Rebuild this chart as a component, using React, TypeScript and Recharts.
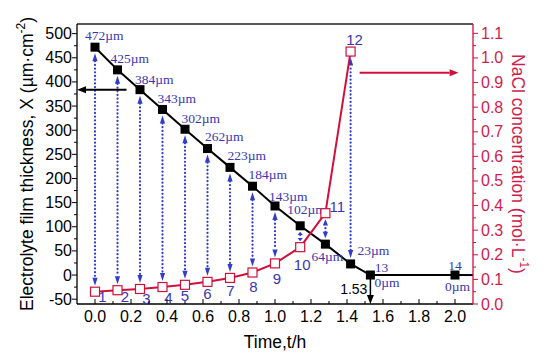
import React from 'react';
import { ComposedChart, Line, XAxis, YAxis, ReferenceLine, Label } from 'recharts';

// time in hours, thickness in µm, NaCl in mol/L
const times = [0, 0.125, 0.25, 0.375, 0.5, 0.625, 0.75, 0.875, 1.0, 1.14, 1.28, 1.42, 1.53, 2.0];
const thickness = [472, 425, 384, 343, 302, 262, 223, 184, 143, 102, 64, 23, 0, 0];
const nacl: (number | null)[] = [0.05, 0.056, 0.061, 0.069, 0.078, 0.09, 0.106, 0.128, 0.165, 0.231, 0.369, 1.026, null, null];
const thicknessLabels = ['472µm', '425µm', '384µm', '343µm', '302µm', '262µm', '223µm', '184µm', '143µm', '102µm', '64µm', '23µm', '0µm', '0µm'];
const pointNames = ['1', '2', '3', '4', '5', '6', '7', '8', '9', '10', '11', '12', '13', '14'];

const xTicks = [0, 0.1, 0.2, 0.3, 0.4, 0.5, 0.6, 0.7, 0.8, 0.9, 1.0, 1.1, 1.2, 1.3, 1.4, 1.5, 1.6, 1.7, 1.8, 1.9, 2.0];
const leftTicks = [-50, -25, 0, 25, 50, 75, 100, 125, 150, 175, 200, 225, 250, 275, 300, 325, 350, 375, 400, 425, 450, 475, 500];
const rightTicks = [0, 0.05, 0.1, 0.15, 0.2, 0.25, 0.3, 0.35, 0.4, 0.45, 0.5, 0.55, 0.6, 0.65, 0.7, 0.75, 0.8, 0.85, 0.9, 0.95, 1.0, 1.05, 1.1];

const X_DOMAIN = [-0.1, 2.1];
const LEFT_DOMAIN = [-60, 520];
const RIGHT_DOMAIN = [0, 1.138];

const data = times.map((t, i) => ({ t, x: thickness[i], c: nacl[i] }));

// express a NaCl value in left-axis units so a segment can join both series
const toLeft = (c: number) =>
  LEFT_DOMAIN[0] + ((c - RIGHT_DOMAIN[0]) / (RIGHT_DOMAIN[1] - RIGHT_DOMAIN[0])) * (LEFT_DOMAIN[1] - LEFT_DOMAIN[0]);

const SANS = '"Liberation Sans", Arial, sans-serif';
const SERIF = '"Liberation Serif", "Times New Roman", serif';
const BLUE = '#3a36b0';
const ARROW_BLUE = '#2f3ccc';
const RED = '#d0103a';
const RED_TEXT = '#cf1d4e';

// label placement, pixels from the point: [dx of text start, dy of text centre]
const umLabelPos = [
  [-10, -12], [-7, -11.5], [-5, -10.5], [-5, -11], [-3.5, -11], [-2.5, -12], [-2.5, -12],
  [-4, -12], [-6, -10], [-13, -16], [-14, 12], [7, -13], [4, 7], [-10, 11],
];
// number labels, [dx, dy] of text centre
const numLabelPos = [
  [7.5, 5], [7.5, 6.5], [6.5, 9.5], [6, 10], [0, 11], [0, 12], [0.5, 13],
  [1, 14], [2, 15], [2, 17], [12, -7], [4, -12], [11, -8], [0, -10],
];

const BlackDot = (props: any) => {
  const { cx, cy, index } = props;
  if (cx == null || cy == null) return <g key={`b-${index}`} />;
  const [dx, dy] = umLabelPos[index];
  const isTail = index >= 12;
  return (
    <g key={`b-${index}`}>
      <rect x={cx - 4.5} y={cy - 4.5} width={9} height={9} fill="#000" />
      <text x={cx + dx} y={cy + dy} dominantBaseline="central" fontFamily={SERIF} fontSize={13.5} fill={BLUE}>
        {thicknessLabels[index]}
      </text>
      {isTail && (
        <text
          x={cx + numLabelPos[index][0]}
          y={cy + numLabelPos[index][1]}
          textAnchor="middle"
          dominantBaseline="central"
          fontFamily={SERIF}
          fontSize={13.5}
          fill={BLUE}
        >
          {pointNames[index]}
        </text>
      )}
    </g>
  );
};

const RedDot = (props: any) => {
  const { cx, cy, index } = props;
  if (cx == null || cy == null || nacl[index] == null) return <g key={`r-${index}`} />;
  const [dx, dy] = numLabelPos[index];
  return (
    <g key={`r-${index}`}>
      <rect x={cx - 4.5} y={cy - 4.5} width={9} height={9} fill="#fff" stroke={RED} strokeWidth={1.2} />
      <text x={cx + dx} y={cy + dy} textAnchor="middle" dominantBaseline="central" fontFamily={SANS} fontSize={15} fill={BLUE}>
        {pointNames[index]}
      </text>
    </g>
  );
};

// dotted blue double arrow between the two points of one sample
const BlueArrow = (props: any) => {
  const { x1, y1, y2 } = props;
  const dir = y2 > y1 ? 1 : -1;
  const span = Math.abs(y2 - y1);
  const inset = 6;
  const head = Math.min(8, (span - 2 * inset) / 3);
  const a = y1 + dir * inset;
  const b = y2 - dir * inset;
  return (
    <g>
      <line
        x1={x1}
        y1={a + dir * head}
        x2={x1}
        y2={b - dir * head}
        stroke={ARROW_BLUE}
        strokeWidth={2.2}
        strokeDasharray="0.1 3.6"
        strokeLinecap="round"
      />
      <polygon points={`${x1},${a} ${x1 - 2.6},${a + dir * head} ${x1 + 2.6},${a + dir * head}`} fill={ARROW_BLUE} />
      <polygon points={`${x1},${b} ${x1 - 2.6},${b - dir * head} ${x1 + 2.6},${b - dir * head}`} fill={ARROW_BLUE} />
    </g>
  );
};

const makeArrow = (color: string, width: number, text?: string) => (props: any) => {
  const { x1, y1, x2, y2 } = props;
  const len = Math.hypot(x2 - x1, y2 - y1) || 1;
  const ux = (x2 - x1) / len;
  const uy = (y2 - y1) / len;
  const hl = 9;
  const hw = 3.5;
  const bx = x2 - ux * hl;
  const by = y2 - uy * hl;
  return (
    <g>
      <line x1={x1} y1={y1} x2={bx} y2={by} stroke={color} strokeWidth={width} />
      <polygon
        points={`${x2},${y2} ${bx - uy * hw},${by + ux * hw} ${bx + uy * hw},${by - ux * hw}`}
        fill={color}
      />
      {text && (
        <text x={x2 - 3} y={y2 - 10} textAnchor="end" fontFamily={SANS} fontSize={14} fill="#000">
          {text}
        </text>
      )}
    </g>
  );
};

const XTick = (props: any) => {
  const { x, y, payload } = props;
  const v = payload.value;
  const major = Math.round(v * 10) % 2 === 0;
  return (
    <g>
      <line x1={x} y1={y} x2={x} y2={y - (major ? 5 : 3)} stroke="#000" strokeWidth={1} />
      {major && (
        <text x={x} y={y + 18} textAnchor="middle" fontFamily={SANS} fontSize={16} fill="#000">
          {v.toFixed(1)}
        </text>
      )}
    </g>
  );
};

const LeftTick = (props: any) => {
  const { x, y, payload } = props;
  const v = payload.value;
  const major = v % 50 === 0;
  return (
    <g>
      <line x1={x} y1={y} x2={x - (major ? 5 : 3)} y2={y} stroke="#000" strokeWidth={1} />
      {major && (
        <text x={x - 5} y={y} textAnchor="end" dominantBaseline="central" fontFamily={SANS} fontSize={16} fill="#000">
          {v}
        </text>
      )}
    </g>
  );
};

const RightTick = (props: any) => {
  const { x, y, payload } = props;
  const v = payload.value;
  const major = Math.round(v * 100) % 10 === 0;
  return (
    <g>
      <line x1={x} y1={y} x2={x + (major ? 5 : 3)} y2={y} stroke={RED} strokeWidth={1} />
      {major && (
        <text x={x + 8} y={y} dominantBaseline="central" fontFamily={SANS} fontSize={16} fill={RED_TEXT}>
          {v.toFixed(1)}
        </text>
      )}
    </g>
  );
};

const LeftTitle = (props: any) => {
  const { viewBox } = props;
  const cx = viewBox.x;
  const cy = viewBox.y + viewBox.height / 2;
  return (
    <text
      x={cx}
      y={cy}
      transform={`rotate(-90, ${cx}, ${cy})`}
      textAnchor="middle"
      dominantBaseline="central"
      fontFamily={SANS}
      fontSize={17.5}
      fill="#000"
    >
      Electrolyte film thickness, X (µm·cm
      <tspan dy={-6} fontSize={12}>-2</tspan>
      <tspan dy={6}>)</tspan>
    </text>
  );
};

const RightTitle = (props: any) => {
  const { viewBox } = props;
  const cx = viewBox.x + 45;
  const cy = viewBox.y + viewBox.height / 2;
  return (
    <text
      x={cx}
      y={cy}
      transform={`rotate(90, ${cx}, ${cy})`}
      textAnchor="middle"
      dominantBaseline="central"
      fontFamily={SANS}
      fontSize={17.5}
      fill={RED_TEXT}
    >
      NaCl concentration (mol·L
      <tspan dy={-6} fontSize={12}>-1</tspan>
      <tspan dy={6}>)</tspan>
    </text>
  );
};

const BottomTitle = (props: any) => {
  const { viewBox } = props;
  return (
    <text
      x={viewBox.x + viewBox.width / 2}
      y={viewBox.y + 38}
      textAnchor="middle"
      dominantBaseline="central"
      fontFamily={SANS}
      fontSize={17.5}
      fill="#000"
    >
      Time,t/h
    </text>
  );
};

export default function App() {
  return (
    <div style={{ width: 540, height: 353, background: '#fff' }}>
      <ComposedChart width={540} height={353} data={data} margin={{ top: 16, right: 20, bottom: 27, left: 19 }}>
        <XAxis
          dataKey="t"
          type="number"
          domain={X_DOMAIN}
          ticks={xTicks}
          interval={0}
          allowDataOverflow
          height={30}
          tickSize={0}
          tickMargin={0}
          tickLine={false}
          tick={<XTick />}
          axisLine={{ stroke: '#000', strokeWidth: 1.3 }}
        >
          <Label content={<BottomTitle />} />
        </XAxis>
        <YAxis
          yAxisId="left"
          domain={LEFT_DOMAIN}
          ticks={leftTicks}
          interval={0}
          allowDataOverflow
          width={50}
          tickSize={0}
          tickMargin={0}
          tickLine={false}
          tick={<LeftTick />}
          axisLine={{ stroke: '#000', strokeWidth: 1.3 }}
        >
          <Label content={<LeftTitle />} />
        </YAxis>
        <YAxis
          yAxisId="right"
          orientation="right"
          domain={RIGHT_DOMAIN}
          ticks={rightTicks}
          interval={0}
          allowDataOverflow
          width={55}
          tickSize={0}
          tickMargin={0}
          tickLine={false}
          tick={<RightTick />}
          axisLine={{ stroke: RED, strokeWidth: 1.3 }}
        >
          <Label content={<RightTitle />} />
        </YAxis>

        <ReferenceLine yAxisId="left" y={LEFT_DOMAIN[1]} stroke="#222" strokeWidth={1.3} ifOverflow="visible" />

        {times.slice(0, 12).map((t, i) => (
          <ReferenceLine
            key={`arr-${i}`}
            yAxisId="left"
            ifOverflow="visible"
            segment={[
              { x: t, y: thickness[i] },
              { x: t, y: toLeft(nacl[i] as number) },
            ]}
            shape={(p: any) => <BlueArrow {...p} />}
          />
        ))}

        <ReferenceLine
          yAxisId="left"
          ifOverflow="visible"
          segment={[
            { x: 0.175, y: 384 },
            { x: -0.1, y: 384 },
          ]}
          shape={makeArrow('#000', 2)}
        />
        <ReferenceLine
          yAxisId="right"
          ifOverflow="visible"
          segment={[
            { x: 1.47, y: 0.94 },
            { x: 2.02, y: 0.94 },
          ]}
          shape={makeArrow(RED, 2)}
        />
        <ReferenceLine
          yAxisId="left"
          ifOverflow="visible"
          segment={[
            { x: 1.53, y: 0 },
            { x: 1.53, y: LEFT_DOMAIN[0] },
          ]}
          shape={makeArrow('#000', 1.5, '1.53')}
        />
        <ReferenceLine
          yAxisId="left"
          ifOverflow="visible"
          segment={[
            { x: 2.0, y: 0 },
            { x: 2.1, y: 0 },
          ]}
          stroke="#000"
          strokeWidth={2}
        />

        <Line
          yAxisId="left"
          dataKey="x"
          type="linear"
          stroke="#000"
          strokeWidth={2}
          dot={(p: any) => <BlackDot {...p} key={`b-${p.index}`} />}
          activeDot={false}
          isAnimationActive={false}
        />
        <Line
          yAxisId="right"
          dataKey="c"
          type="linear"
          stroke={RED}
          strokeWidth={2}
          dot={(p: any) => <RedDot {...p} key={`r-${p.index}`} />}
          activeDot={false}
          isAnimationActive={false}
        />
      </ComposedChart>
    </div>
  );
}
